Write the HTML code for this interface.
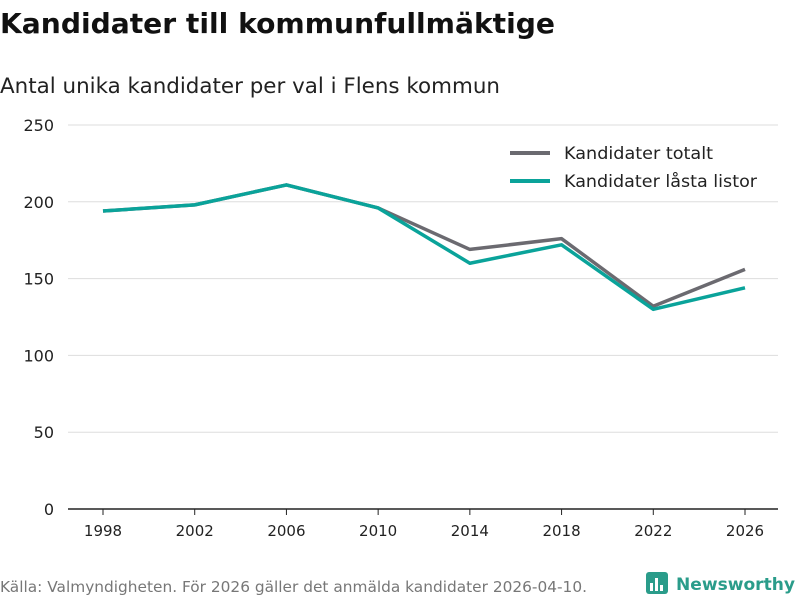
<!DOCTYPE html>
<html><head><meta charset="utf-8">
<style>
body{margin:0;background:#fff;font-family:"DejaVu Sans","Liberation Sans",sans-serif;}
#wrap{position:relative;width:800px;height:600px;overflow:hidden;}
</style></head>
<body>
<div id="wrap">
<svg id="svg" width="800" height="600" xmlns="http://www.w3.org/2000/svg" font-family="DejaVu Sans, Liberation Sans, sans-serif">
<text x="0" y="33" font-size="28" font-weight="bold" fill="#111" textLength="555" lengthAdjust="spacingAndGlyphs">Kandidater till kommunfullmäktige</text>
<text x="0" y="93" font-size="21" fill="#222" textLength="500" lengthAdjust="spacingAndGlyphs">Antal unika kandidater per val i Flens kommun</text>
<g id="grid"></g><g id="lines"></g>
<g>
<line x1="510" y1="153" x2="550" y2="153" stroke="#6b6a70" stroke-width="4"/>
<text x="564" y="159" font-size="17" fill="#222" textLength="149" lengthAdjust="spacingAndGlyphs">Kandidater totalt</text>
<line x1="510" y1="181" x2="550" y2="181" stroke="#0aa39a" stroke-width="4"/>
<text x="564" y="187" font-size="17" fill="#222" textLength="193" lengthAdjust="spacingAndGlyphs">Kandidater låsta listor</text>
</g>
<text x="0" y="592" font-size="15" fill="#777" textLength="587" lengthAdjust="spacingAndGlyphs">Källa: Valmyndigheten. För 2026 gäller det anmälda kandidater 2026-04-10.</text>
<g>
<rect x="646" y="572" width="22" height="22" rx="3" fill="#2a9c8a"/>
<rect x="650" y="583" width="3" height="8" fill="#fff"/><rect x="655" y="578" width="3" height="13" fill="#fff"/><rect x="660" y="585" width="3" height="6" fill="#fff"/>
<text x="676" y="590" font-size="17" font-weight="bold" fill="#2a9c8a" textLength="119" lengthAdjust="spacingAndGlyphs">Newsworthy</text>
</g>
</svg>
</div>
<script>
const years=[1998,2002,2006,2010,2014,2018,2022,2026];
const totalt=[194,198,211,196,169,176,132,156];
const lasta=[194,198,211,196,160,172,130,144];
const yTicks=[0,50,100,150,200,250];
const NS="http://www.w3.org/2000/svg";
const x=v=>103+(v-1998)/(2026-1998)*(745-103);
const y=v=>509-v/250*384;
const grid=document.getElementById('grid');
yTicks.forEach(t=>{
  const l=document.createElementNS(NS,'line');
  l.setAttribute('x1',68);l.setAttribute('x2',778);l.setAttribute('y1',y(t));l.setAttribute('y2',y(t));
  l.setAttribute('stroke',t===0?'#222':'#ddd');l.setAttribute('stroke-width',t===0?1.5:1);
  
  
  grid.appendChild(l);
  const tx=document.createElementNS(NS,'text');
  tx.setAttribute('x',54);tx.setAttribute('y',y(t)+6);tx.setAttribute('text-anchor','end');
  tx.setAttribute('font-size',16);tx.setAttribute('fill','#222');tx.textContent=t;
  
  
  grid.appendChild(tx);
});
years.forEach(yr=>{
  const l=document.createElementNS(NS,'line');
  l.setAttribute('x1',x(yr));l.setAttribute('x2',x(yr));l.setAttribute('y1',509);l.setAttribute('y2',515);
  l.setAttribute('stroke','#222');
  
  
  grid.appendChild(l);
  const tx=document.createElementNS(NS,'text');
  tx.setAttribute('x',x(yr));tx.setAttribute('y',536);tx.setAttribute('text-anchor','middle');
  tx.setAttribute('font-size',15);tx.setAttribute('fill','#222');tx.textContent=yr;
  
  
  grid.appendChild(tx);
});
const lines=document.getElementById('lines');
[[totalt,'#6b6a70','line-totalt'],[lasta,'#0aa39a','line-lasta']].forEach(([d,c,n])=>{
  const p=document.createElementNS(NS,'polyline');
  p.setAttribute('points',d.map((v,i)=>x(years[i])+','+y(v)).join(' '));
  p.setAttribute('fill','none');p.setAttribute('stroke',c);p.setAttribute('stroke-width',3.5);
  p.setAttribute('stroke-linejoin','round');
  
  
  lines.appendChild(p);
});
</script>
</body></html>
